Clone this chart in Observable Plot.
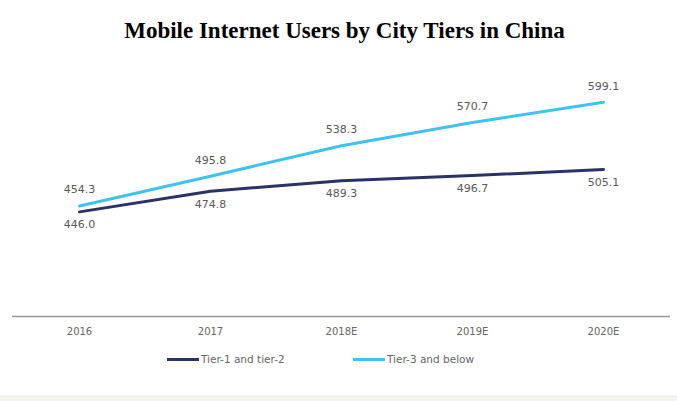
<!DOCTYPE html>
<html>
<head>
<meta charset="utf-8">
<script src="https://cdn.jsdelivr.net/npm/d3@7"></script>
<script src="https://cdn.jsdelivr.net/npm/@observablehq/plot@0.6"></script>
<style>
  html, body { margin: 0; padding: 0; background: #fff; }
  #wrap { position: relative; width: 677px; height: 401px; overflow: hidden; background: #fff; }
  #title { position: absolute; left: 6px; top: 18px; width: 677px; text-align: center;
    font-family: "Liberation Serif", "Times New Roman", serif; font-weight: bold; font-size: 23px; color: #000; }
  #chart { position: absolute; left: 0; top: 50px; }
  #legend { position: absolute; left: 0; top: 351px; width: 677px; height: 16px;
    font-family: "DejaVu Sans", sans-serif; font-size: 10.5px; color: #666; }
  .item { position: absolute; top: 0; display: flex; align-items: center; height: 16px; }
  .sw { display: inline-block; width: 32px; height: 3px; margin-right: 2px; }
  #band { position: absolute; left: 0; top: 395px; width: 677px; height: 6px; background: #f4f4ec; }
</style>
</head>
<body>
<div id="wrap">
  <div id="title">Mobile Internet Users by City Tiers in China</div>
  <div id="chart"></div>
  <div id="legend"></div>
  <div id="band"></div>
</div>
<script>
const years = ["2016", "2017", "2018E", "2019E", "2020E"];
const seriesNames = ["Tier-1 and tier-2", "Tier-3 and below"];
const tier12 = [446.0, 474.8, 489.3, 496.7, 505.1];
const tier3 = [454.3, 495.8, 538.3, 570.7, 599.1];
const colors = ["#2a3366", "#3ec3ee"];

const data = [];
years.forEach((y, i) => {
  data.push({year: y, series: seriesNames[0], value: tier12[i]});
  data.push({year: y, series: seriesNames[1], value: tier3[i]});
});
const lower = data.filter(d => d.series === seriesNames[0]);
const upper = data.filter(d => d.series === seriesNames[1]);

const chart = Plot.plot({
  width: 677,
  height: 290,
  marginLeft: 12,
  marginRight: 7,
  marginTop: 51,
  marginBottom: 24,
  style: {fontFamily: "DejaVu Sans, sans-serif", fontSize: "10px", color: "#666", background: "transparent"},
  x: {type: "point", domain: years, padding: 0.5, label: null, tickSize: 0, tickPadding: 11},
  y: {domain: [300, 600], axis: null},
  color: {domain: seriesNames, range: colors},
  marks: [
    Plot.ruleY([300], {stroke: "#9a9a9a", strokeWidth: 1.5}),
    Plot.line(data, {x: "year", y: "value", z: "series", stroke: "series", strokeWidth: 3}),
    Plot.text(upper, {x: "year", y: "value", text: d => d.value.toFixed(1), dy: -16, fill: "#595959", fontSize: 11}),
    Plot.text(lower, {x: "year", y: "value", text: d => d.value.toFixed(1), dy: 13, fill: "#595959", fontSize: 11})
  ]
});
document.getElementById("chart").appendChild(chart);

const legend = document.getElementById("legend");
const lefts = [167, 353];
seriesNames.forEach((s, i) => {
  const it = document.createElement("div");
  it.className = "item";
  it.style.left = lefts[i] + "px";
  const sw = document.createElement("span");
  sw.className = "sw";
  sw.style.background = colors[i];
  it.appendChild(sw);
  const t = document.createElement("span");
  t.textContent = s;
  it.appendChild(t);
  legend.appendChild(it);
});
</script>
</body>
</html>
